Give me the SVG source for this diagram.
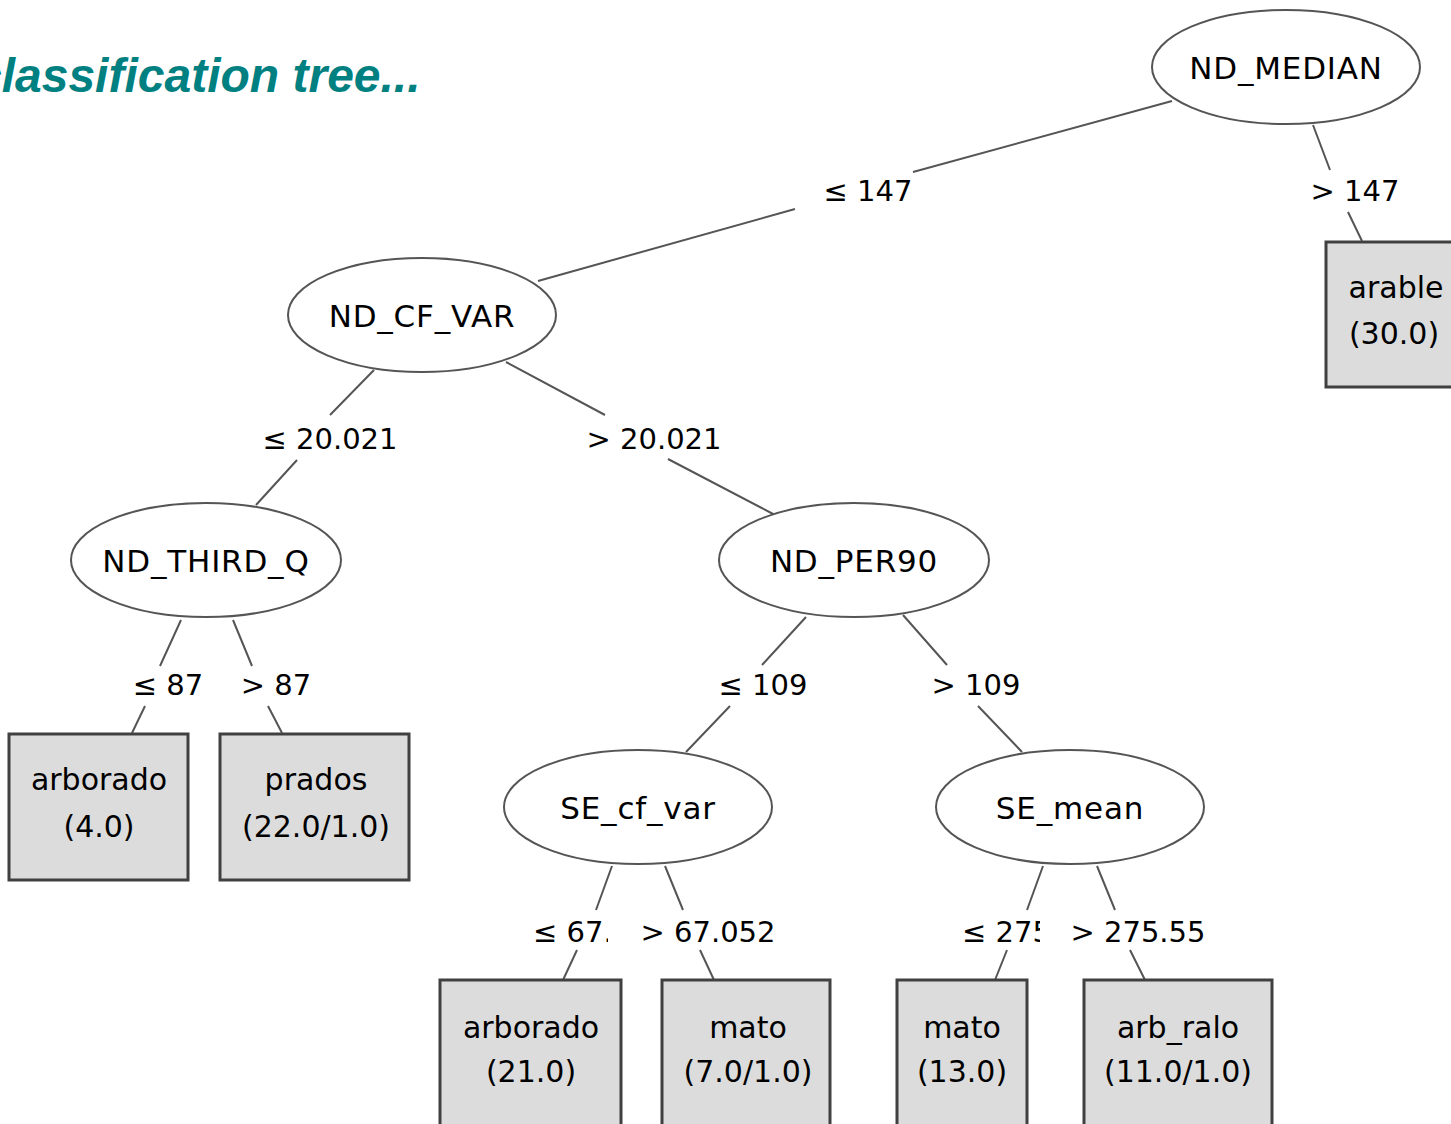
<svg xmlns="http://www.w3.org/2000/svg" width="1451" height="1124" viewBox="0 0 1451 1124">
  <style>
    .title { font-family: "Liberation Sans", Arial, sans-serif; font-weight: bold; font-style: italic; font-size: 48px; fill: #008080; }
    .split { fill: #ffffff; stroke: #555555; stroke-width: 2; }
    .leaf { fill: #dcdcdc; stroke: #404040; stroke-width: 3; }
    .ntext { font-family: "DejaVu Sans", sans-serif; font-size: 31px; letter-spacing: 0.8px; fill: #000000; text-anchor: middle; }
    .ltext { font-family: "DejaVu Sans", sans-serif; font-size: 30px; fill: #000000; text-anchor: middle; }
    .etext { font-family: "DejaVu Sans", sans-serif; font-size: 29px; fill: #000000; text-anchor: middle; }
    .etext-cut { font-family: "DejaVu Sans", sans-serif; font-size: 29px; fill: #000000; text-anchor: start; }
    .edge { stroke: #555555; stroke-width: 2; fill: none; }
  </style>
  <defs>
    <clipPath id="clip-67"><rect x="520" y="900" width="88" height="60"/></clipPath>
    <clipPath id="clip-275"><rect x="950" y="900" width="90" height="60"/></clipPath>
  </defs>
  <rect width="1451" height="1124" fill="#ffffff"/>

  <text class="title" x="-25" y="92">classification tree...</text>

  <!-- connectors, each broken around its condition label -->
  <g id="connectors">
    <path class="edge" d="M1172,101 L913,172 M795,209 L538,281"/>
    <text class="etext" x="868" y="201">≤ 147</text>
    <path class="edge" d="M1313,125 L1330,170 M1348,212 L1362,241"/>
    <text class="etext" x="1355" y="201">&gt; 147</text>

    <path class="edge" d="M374,370 L330,415 M297,460 L256,505"/>
    <text class="etext" x="330" y="449">≤ 20.021</text>
    <path class="edge" d="M506,362 L605,415 M668,459 L775,515"/>
    <text class="etext" x="654" y="449">&gt; 20.021</text>

    <path class="edge" d="M181,620 L160,666 M145,706 L132,733"/>
    <text class="etext" x="168" y="695">≤ 87</text>
    <path class="edge" d="M233,620 L252,666 M268,706 L282,733"/>
    <text class="etext" x="276" y="695">&gt; 87</text>

    <path class="edge" d="M806,617 L762,665 M730,706 L686,752"/>
    <text class="etext" x="763" y="695">≤ 109</text>
    <path class="edge" d="M903,615 L947,665 M978,706 L1022,752"/>
    <text class="etext" x="976" y="695">&gt; 109</text>

    <path class="edge" d="M612,866 L596,910 M577,950 L563,980"/>
    <text class="etext-cut" x="533" y="942" clip-path="url(#clip-67)">≤ 67.</text>
    <path class="edge" d="M665,866 L683,910 M700,950 L714,980"/>
    <text class="etext" x="708" y="942">&gt; 67.052</text>

    <path class="edge" d="M1043,866 L1027,910 M1007,950 L995,980"/>
    <text class="etext-cut" x="962" y="942" clip-path="url(#clip-275)">≤ 275</text>
    <path class="edge" d="M1097,866 L1115,910 M1130,950 L1145,980"/>
    <text class="etext" x="1138" y="942">&gt; 275.55</text>
  </g>

  <!-- split nodes -->
  <g id="nd-median">
    <ellipse class="split" cx="1286" cy="67" rx="134" ry="57"/>
    <text class="ntext" x="1286" y="79">ND_MEDIAN</text>
  </g>
  <g id="nd-cf-var">
    <ellipse class="split" cx="422" cy="315" rx="134" ry="57"/>
    <text class="ntext" x="422" y="327">ND_CF_VAR</text>
  </g>
  <g id="nd-third-q">
    <ellipse class="split" cx="206" cy="560" rx="135" ry="57"/>
    <text class="ntext" x="206" y="572">ND_THIRD_Q</text>
  </g>
  <g id="nd-per90">
    <ellipse class="split" cx="854" cy="560" rx="135" ry="57"/>
    <text class="ntext" x="854" y="572">ND_PER90</text>
  </g>
  <g id="se-cf-var">
    <ellipse class="split" cx="638" cy="807" rx="134" ry="57"/>
    <text class="ntext" x="638" y="819">SE_cf_var</text>
  </g>
  <g id="se-mean">
    <ellipse class="split" cx="1070" cy="807" rx="134" ry="57"/>
    <text class="ntext" x="1070" y="819">SE_mean</text>
  </g>

  <!-- leaf nodes -->
  <g id="leaf-arable">
    <rect class="leaf" x="1326" y="242" width="140" height="145"/>
    <text class="ltext" x="1396" y="298">arable</text>
    <text class="ltext" x="1394" y="344">(30.0)</text>
  </g>
  <g id="leaf-arborado-4">
    <rect class="leaf" x="9" y="734" width="179" height="146"/>
    <text class="ltext" x="99" y="790">arborado</text>
    <text class="ltext" x="99" y="837">(4.0)</text>
  </g>
  <g id="leaf-prados">
    <rect class="leaf" x="220" y="734" width="189" height="146"/>
    <text class="ltext" x="316" y="790">prados</text>
    <text class="ltext" x="316" y="837">(22.0/1.0)</text>
  </g>
  <g id="leaf-arborado-21">
    <rect class="leaf" x="440" y="980" width="181" height="160"/>
    <text class="ltext" x="531" y="1038">arborado</text>
    <text class="ltext" x="531" y="1082">(21.0)</text>
  </g>
  <g id="leaf-mato-7">
    <rect class="leaf" x="662" y="980" width="168" height="160"/>
    <text class="ltext" x="748" y="1038">mato</text>
    <text class="ltext" x="748" y="1082">(7.0/1.0)</text>
  </g>
  <g id="leaf-mato-13">
    <rect class="leaf" x="897" y="980" width="130" height="160"/>
    <text class="ltext" x="962" y="1038">mato</text>
    <text class="ltext" x="962" y="1082">(13.0)</text>
  </g>
  <g id="leaf-arb-ralo">
    <rect class="leaf" x="1084" y="980" width="188" height="160"/>
    <text class="ltext" x="1178" y="1038">arb_ralo</text>
    <text class="ltext" x="1178" y="1082">(11.0/1.0)</text>
  </g>
</svg>
